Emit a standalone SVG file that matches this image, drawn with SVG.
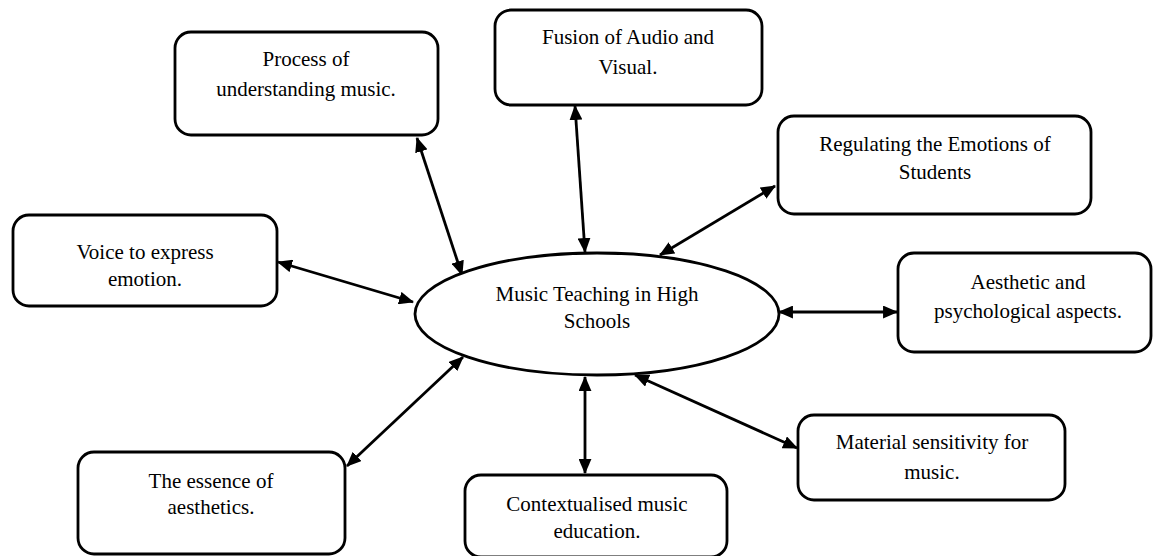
<svg xmlns="http://www.w3.org/2000/svg" width="1156" height="556" viewBox="0 0 1156 556">
<style>
.box{fill:#fff;stroke:#000;stroke-width:2.8}
.lbl{font-family:"Liberation Serif","Times New Roman",serif;font-size:21px;fill:#000;text-anchor:middle}
.con{stroke:#000;stroke-width:2.8;fill:none;marker-start:url(#ah);marker-end:url(#ah)}
</style>
<defs>
<marker id="ah" viewBox="0 0 14 12" refX="13" refY="6" markerWidth="15" markerHeight="13" markerUnits="userSpaceOnUse" orient="auto-start-reverse">
<path d="M0,0 L14,6 L0,12 z" fill="#000"/>
</marker>
</defs>
<rect width="1156" height="556" fill="#fff"/>
<g id="connectors">
<line class="con" x1="417" y1="138" x2="462" y2="275"/>
<line class="con" x1="575" y1="106" x2="585" y2="252"/>
<line class="con" x1="775" y1="186" x2="660" y2="255"/>
<line class="con" x1="278" y1="262" x2="413" y2="302"/>
<line class="con" x1="779" y1="312" x2="897" y2="312"/>
<line class="con" x1="797" y1="448" x2="635" y2="375"/>
<line class="con" x1="585" y1="377" x2="585" y2="473"/>
<line class="con" x1="347" y1="466" x2="463" y2="357"/>
</g>
<g id="center">
<ellipse class="box" cx="597" cy="314" rx="182" ry="61"/>
<text class="lbl" x="597" y="301">Music Teaching in High</text>
<text class="lbl" x="597" y="328">Schools</text>
</g>
<g id="process">
<rect class="box" x="175" y="32" width="263" height="103" rx="16"/>
<text class="lbl" x="306" y="66">Process of</text>
<text class="lbl" x="306" y="96">understanding music.</text>
</g>
<g id="fusion">
<rect class="box" x="495" y="10" width="267" height="95" rx="16"/>
<text class="lbl" x="628" y="44">Fusion of Audio and</text>
<text class="lbl" x="628" y="74">Visual.</text>
</g>
<g id="regulating">
<rect class="box" x="778" y="116" width="313" height="98" rx="16"/>
<text class="lbl" x="935" y="151">Regulating the Emotions of</text>
<text class="lbl" x="935" y="179">Students</text>
</g>
<g id="voice">
<rect class="box" x="13" y="215" width="264" height="91" rx="16"/>
<text class="lbl" x="145" y="259">Voice to express</text>
<text class="lbl" x="145" y="286">emotion.</text>
</g>
<g id="aesthetic">
<rect class="box" x="898" y="253" width="253" height="99" rx="16"/>
<text class="lbl" x="1028" y="289">Aesthetic and</text>
<text class="lbl" x="1028" y="318">psychological aspects.</text>
</g>
<g id="material">
<rect class="box" x="798" y="415" width="267" height="85" rx="16"/>
<text class="lbl" x="932" y="449">Material sensitivity for</text>
<text class="lbl" x="932" y="479">music.</text>
</g>
<g id="contextualised">
<rect class="box" x="465" y="475" width="262" height="82" rx="16"/>
<text class="lbl" x="597" y="511">Contextualised music</text>
<text class="lbl" x="597" y="538">education.</text>
</g>
<g id="essence">
<rect class="box" x="78" y="452" width="267" height="102" rx="16"/>
<text class="lbl" x="211" y="488">The essence of</text>
<text class="lbl" x="211" y="514">aesthetics.</text>
</g>
</svg>
